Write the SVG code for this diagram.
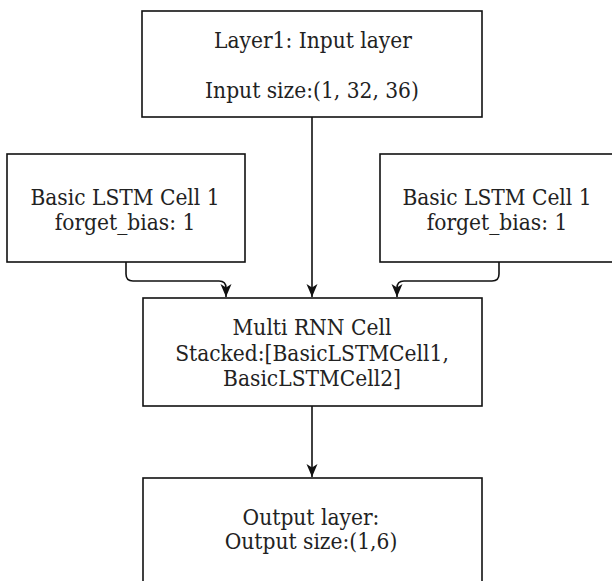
<svg xmlns="http://www.w3.org/2000/svg" width="612" height="581" viewBox="0 0 612 581">
<defs>
<style>
.box{fill:#fff;stroke:#111;stroke-width:1.6}
.t{font-family:"DejaVu Serif","Liberation Serif",serif;font-stretch:condensed;font-size:22.5px;fill:#222;text-anchor:middle}
.c{fill:none;stroke:#111;stroke-width:1.6}
</style>
<marker id="arr" markerUnits="userSpaceOnUse" markerWidth="14" markerHeight="14" viewBox="0 0 14 14" refX="13" refY="7" orient="auto">
<path d="M0,1.5 L13,7 L0,12.5 L3.5,7 Z" fill="#111"/>
</marker>
</defs>
<rect width="612" height="581" fill="#fff"/>
<g id="connectors">
<path class="c" d="M312,117 V297" marker-end="url(#arr)"/>
<path class="c" d="M126,262 V274 Q126,281 133,281 H219 Q226,281 226,288 V297" marker-end="url(#arr)"/>
<path class="c" d="M499,262 V274 Q499,281 492,281 H404 Q397,281 397,288 V297" marker-end="url(#arr)"/>
<path class="c" d="M312,406 V477" marker-end="url(#arr)"/>
</g>
<g id="input">
<rect class="box" x="142" y="11" width="340" height="106"/>
<text class="t" x="313" y="48">Layer1: Input layer</text>
<text class="t" x="312" y="98">Input size:(1, 32, 36)</text>
</g>
<g id="lstm1">
<rect class="box" x="7" y="154" width="238" height="108"/>
<text class="t" x="125" y="205">Basic LSTM Cell 1</text>
<text class="t" x="125" y="230">forget_bias: 1</text>
</g>
<g id="lstm2">
<rect class="box" x="380" y="154" width="238" height="108"/>
<text class="t" x="497" y="205">Basic LSTM Cell 1</text>
<text class="t" x="497" y="230">forget_bias: 1</text>
</g>
<g id="multi">
<rect class="box" x="143" y="298" width="339" height="108"/>
<text class="t" x="312" y="335">Multi RNN Cell</text>
<text class="t" x="312" y="361">Stacked:[BasicLSTMCell1,</text>
<text class="t" x="312" y="386">BasicLSTMCell2]</text>
</g>
<g id="output">
<rect class="box" x="143" y="478" width="339" height="120"/>
<text class="t" x="311" y="525">Output layer:</text>
<text class="t" x="311" y="549">Output size:(1,6)</text>
</g>
</svg>
